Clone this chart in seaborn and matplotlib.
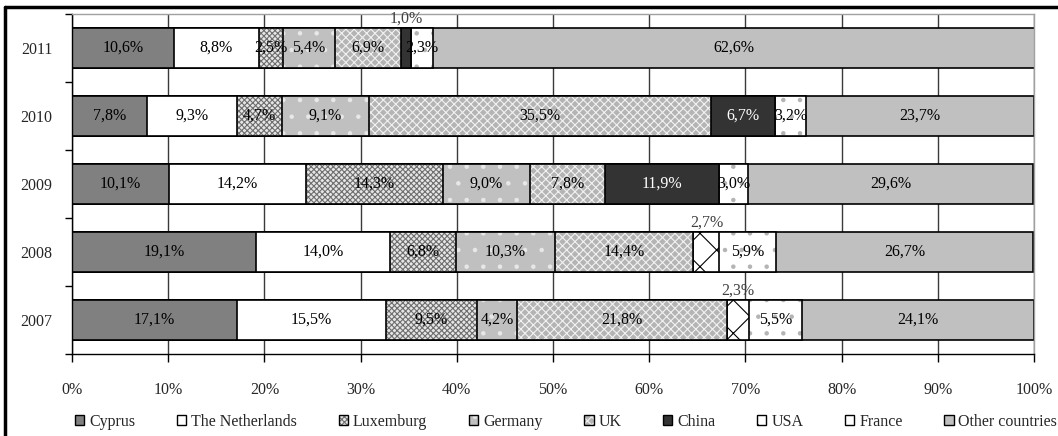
import matplotlib
matplotlib.use("Agg")
import matplotlib.pyplot as plt
from matplotlib.patches import Patch
from matplotlib.lines import Line2D
import numpy as np
import seaborn as sns

# Share of foreign direct investment by country of origin, per year (%)
years = ["2011", "2010", "2009", "2008", "2007"]
countries = ["Cyprus", "The Netherlands", "Luxemburg", "Germany", "UK",
             "China", "USA", "France", "Other countries"]
cyprus      = [10.6, 7.8, 10.1, 19.1, 17.1]
netherlands = [8.8, 9.3, 14.2, 14.0, 15.5]
luxemburg   = [2.5, 4.7, 14.3, 6.8, 9.5]
germany     = [5.4, 9.1, 9.0, 10.3, 4.2]
uk          = [6.9, 35.5, 7.8, 14.4, 21.8]
china       = [1.0, 6.7, 11.9, 0.0, 0.0]
usa         = [0.0, 0.0, 0.0, 2.7, 2.3]
france      = [2.3, 3.2, 3.0, 5.9, 5.5]
other       = [62.6, 23.7, 29.6, 26.7, 24.1]
series = [cyprus, netherlands, luxemburg, germany, uk, china, usa, france, other]

# fill colour, hatch pattern, hatch colour, label colour
styles = [
    ("#808080", "",       "#808080", "black"),
    ("#ffffff", "",       "#ffffff", "black"),
    ("#e6e6e6", "xxxxxx", "#6e6e6e", "black"),
    ("#c0c0c0", ".",      "#e8e8e8", "black"),
    ("#b4b4b4", "xxxx",   "#f2f2f2", "black"),
    ("#333333", "",       "#333333", "white"),
    ("#ffffff", "x",      "#000000", "black"),
    ("#ffffff", ".",      "#b4b4b4", "black"),
    ("#c0c0c0", "",       "#c0c0c0", "black"),
]

sns.set_theme(style="ticks")
FONT = "Liberation Serif"
plt.rcParams["font.family"] = [FONT, "DejaVu Serif"]
plt.rcParams["hatch.linewidth"] = 0.8
FS = 11.5

fig = plt.figure(figsize=(10.58, 4.36), dpi=100)
ax = fig.add_axes([72 / 1058, 1 - 354 / 436, (1034 - 72) / 1058, (354 - 14) / 436])

vals = np.array(series)
cum = np.cumsum(vals, axis=0)

# Stacked bars: draw cumulative totals from the last series down to the first
for k in range(len(series) - 1, -1, -1):
    fc, hatch, hc, _ = styles[k]
    sns.barplot(x=cum[k], y=years, order=years, orient="h", color=fc,
                saturation=1, width=0.6, errorbar=None, hatch=hatch,
                edgecolor=hc, linewidth=0, ax=ax)
    sns.barplot(x=cum[k], y=years, order=years, orient="h", color="black",
                fill=False, width=0.6, errorbar=None, linewidth=1.2, ax=ax)

# Value labels
half_bar = 0.3
for k, vals_k in enumerate(series):
    lc = styles[k][3]
    for i, v in enumerate(vals_k):
        if v <= 0:
            continue
        centre = cum[k][i] - v / 2
        txt = f"{v:.1f}%".replace(".", ",")
        if countries[k] in ("China", "USA") and v < 3:
            ax.annotate(txt, (centre, i - half_bar), xytext=(0, 1),
                        textcoords="offset points", ha="center", va="bottom",
                        fontsize=FS, color="#404040", family=FONT)
        else:
            ax.text(centre, i, txt, ha="center", va="center", fontsize=FS,
                    color=lc, family=FONT)

ax.set_xlim(0, 100)
ax.set_ylim(4.5, -0.5)
ax.set_xlabel("")
ax.set_ylabel("")

ax.set_axisbelow(True)
ax.xaxis.grid(True, color="#3a3a3a", linewidth=1)
ax.yaxis.grid(False)

ticks = list(range(0, 101, 10))
ax.set_xticks(ticks)
ax.set_xticklabels([f"{t}%" for t in ticks], fontsize=FS, family=FONT)
ax.tick_params(axis="x", direction="out", length=6, width=1, color="black", pad=14)

ax.set_yticks(range(len(years)))
ax.set_yticklabels(years, fontsize=FS, family=FONT)
ax.set_yticks([i - 0.5 for i in range(len(years) + 1)], minor=True)
ax.tick_params(axis="y", which="major", length=0, pad=14)
ax.tick_params(axis="y", which="minor", direction="out", length=5, width=1, color="black")

for side in ("left", "bottom"):
    ax.spines[side].set_color("black")
    ax.spines[side].set_linewidth(1)
for side in ("top", "right"):
    ax.spines[side].set_visible(True)
    ax.spines[side].set_color("#a0a0a0")
    ax.spines[side].set_linewidth(1)

# Outer frame lines
fig.add_artist(Line2D([5 / 1058, 1], [1 - 7 / 436] * 2, transform=fig.transFigure,
                      color="black", linewidth=2.5))
fig.add_artist(Line2D([5 / 1058] * 2, [0, 1 - 7 / 436], transform=fig.transFigure,
                      color="black", linewidth=2.5))

# Legend
handles = []
for fc, hatch, hc, _ in styles:
    handles.append((Patch(facecolor=fc, hatch=hatch, edgecolor=hc, linewidth=0),
                    Patch(facecolor="none", edgecolor="black", linewidth=1)))
fig.legend(handles, countries, loc="center", bbox_to_anchor=(0.535, 1 - 422 / 436),
           ncol=9, frameon=False, handlelength=0.6, handleheight=0.6,
           handletextpad=0.3, columnspacing=2.6,
           prop={"family": FONT, "size": FS})

fig.savefig("out.png", dpi=100)
